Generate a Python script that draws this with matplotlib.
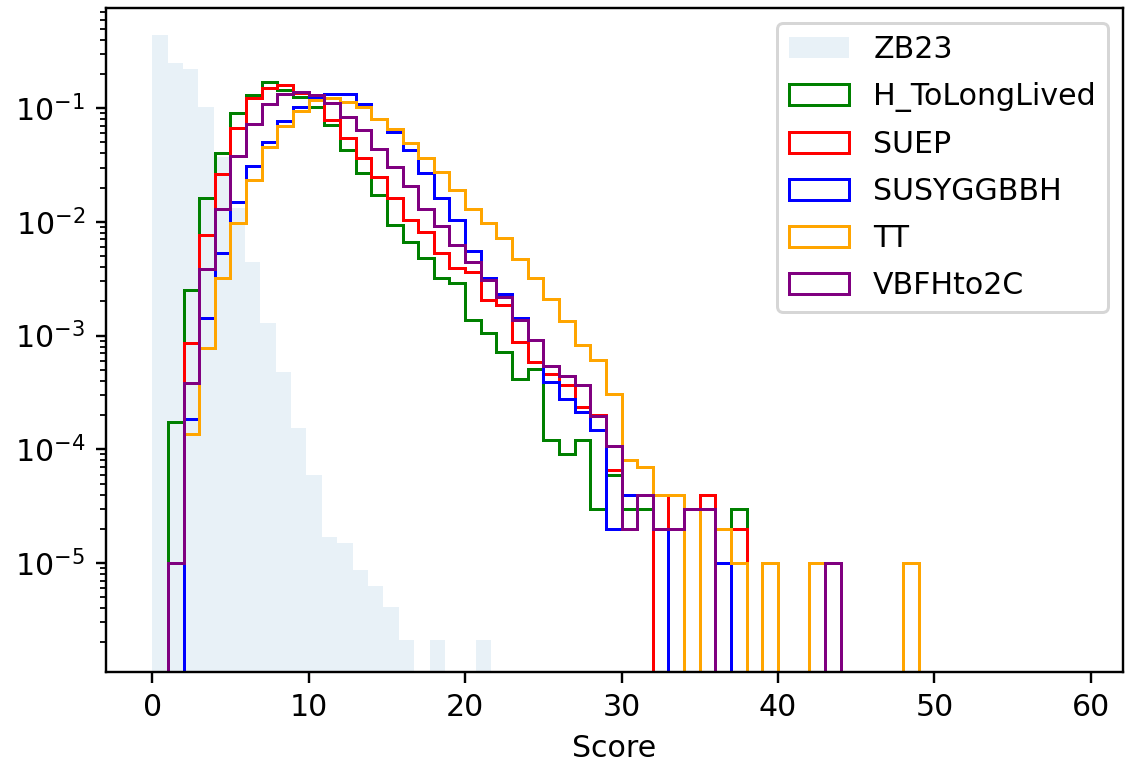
import numpy as np
import matplotlib
matplotlib.use("Agg")
import matplotlib.pyplot as plt

# ---- data (normalised densities) ----
zb23_values = [0.44, 0.25, 0.22, 0.103, 0.037, 0.0132, 0.00446, 0.00129, 4.8e-4, 1.54e-4,
               5.9e-5, 1.7e-5, 1.5e-5, 8.7e-6, 6.3e-6, 4.1e-6, 2.1e-6, 0, 2.1e-6, 0, 0, 2.1e-6]
zb23_max = 59.1
zb23_nbins = 60

h_longlived = [0, 1.75e-4, 2.51e-3, 1.61e-2, 4.05e-2, 0.091, 0.1316, 0.1695, 0.144, 0.125,
               0.102, 0.071, 0.0428, 0.0267, 0.0172, 9.36e-3, 6.68e-3, 4.77e-3, 3.18e-3, 2.88e-3,
               1.37e-3, 1.06e-3, 7.21e-4, 4.12e-4, 5.05e-4, 1.2e-4, 9e-5, 1.2e-4, 3e-5, 6e-5,
               3e-5, 3e-5, 0, 0, 0, 0, 0, 3e-5]
suep = [0, 1.0e-5, 8.65e-4, 7.65e-3, 0.0263, 0.0667, 0.1225, 0.151, 0.159, 0.1355,
        0.1175, 0.0785, 0.0542, 0.0361, 0.0247, 0.0161, 0.01035, 8.18e-3, 5.28e-3, 3.90e-3,
        3.64e-3, 2.05e-3, 1.85e-3, 8.81e-4, 5.85e-4, 4.59e-4, 3.67e-4, 2.37e-4, 2.0e-4, 6.6e-5,
        4e-5, 4e-5, 0, 4e-5, 3e-5, 4e-5, 2e-5, 2e-5]
susyggbbh = [0, 0, 1.85e-4, 1.43e-3, 5.28e-3, 0.0150, 0.0309, 0.0508, 0.0776, 0.102,
             0.125, 0.132, 0.132, 0.108, 0.080, 0.0615, 0.0428, 0.0268, 0.0161, 0.01035,
             5.53e-3, 3.18e-3, 2.32e-3, 1.42e-3, 9.1e-4, 3.93e-4, 2.77e-4, 2.14e-4, 1.48e-4, 2e-5,
             4e-5, 4e-5, 2e-5, 0, 0, 0, 1e-5]
tt = [0, 1e-5, 1.35e-4, 7.71e-4, 3.20e-3, 9.81e-3, 0.0233, 0.0454, 0.0695, 0.095,
      0.119, 0.1216, 0.1135, 0.1025, 0.0796, 0.065, 0.0492, 0.0363, 0.0275, 0.0192,
      0.0131, 9.75e-3, 7.16e-3, 4.68e-3, 3.18e-3, 2.08e-3, 1.34e-3, 8.24e-4, 6.09e-4, 3.06e-4,
      8e-5, 7e-5, 4e-5, 4e-5, 0, 3e-5, 2e-5, 1e-5, 0, 1e-5,
      0, 0, 1e-5, 0, 0, 0, 0, 0, 1e-5]
vbfhto2c = [0, 1e-5, 3.85e-4, 3.82e-3, 0.0131, 0.0382, 0.0723, 0.108, 0.1345, 0.1374,
            0.130, 0.110, 0.0839, 0.0641, 0.0434, 0.0305, 0.0206, 0.0131, 9.18e-3, 6.25e-3,
            4.43e-3, 3.08e-3, 2.19e-3, 1.37e-3, 9.1e-4, 5.4e-4, 4.41e-4, 3.67e-4, 1.96e-4, 1.06e-4,
            2e-5, 4e-5, 2e-5, 2e-5, 3e-5, 3e-5, 0, 0, 0, 0,
            0, 0, 0, 1e-5]

signal_labels = ["H_ToLongLived", "SUEP", "SUSYGGBBH", "TT", "VBFHto2C"]
signal_values = [h_longlived, suep, susyggbbh, tt, vbfhto2c]
signal_colors = ["green", "red", "blue", "orange", "purple"]
signal_nbins = 59  # integer-width bins starting at 0

# ---- figure ----
DPI = 216
fig = plt.figure(figsize=(1125 / DPI, 767 / DPI), dpi=DPI)
ax = fig.add_axes([106 / 1125, 1 - 672 / 767, 1017 / 1125, 664 / 767])

zb_edges = np.linspace(0, zb23_max, zb23_nbins + 1)
zb_full = np.zeros(zb23_nbins)
zb_full[:len(zb23_values)] = zb23_values
zb_centers = 0.5 * (zb_edges[:-1] + zb_edges[1:])
ax.hist(zb_centers, bins=zb_edges, weights=zb_full, histtype="stepfilled",
        color="#1f77b4", alpha=0.1, label="ZB23", log=True)

sig_edges = np.arange(0, signal_nbins + 1, 1.0)
sig_centers = 0.5 * (sig_edges[:-1] + sig_edges[1:])
for lab, vals, col in zip(signal_labels, signal_values, signal_colors):
    full = np.zeros(signal_nbins)
    full[:len(vals)] = vals
    ax.hist(sig_centers, bins=sig_edges, weights=full, histtype="step",
            color=col, linewidth=1.0, label=lab, log=True)

ax.set_xlim(-0.05 * zb23_max, 1.05 * zb23_max)
ax.set_ylim(1.1e-6, 0.76)
ax.set_xlabel("Score", fontsize=10)
ax.tick_params(labelsize=10)
ax.legend(loc="upper right", fontsize=10, labelspacing=0.6)

fig.savefig("out.png", dpi=DPI)
